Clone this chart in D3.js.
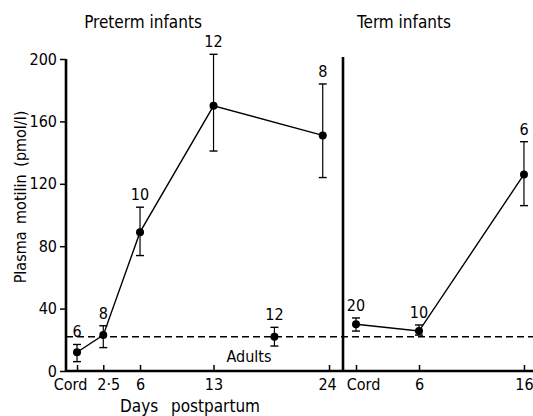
<!DOCTYPE html>
<html>
<head>
<meta charset="utf-8">
<script src="https://cdn.jsdelivr.net/npm/d3@7"></script>
<style>
  body { margin: 0; background: #fff; }
  text { font-family: "DejaVu Sans Condensed", "DejaVu Sans", sans-serif; font-stretch: condensed; fill: #000; }
</style>
</head>
<body>
<div class="chart"></div>
<script>
// Data
var pretermDays = [0, 2.5, 6, 13, 23.4];
var pretermMean = [12, 23, 89, 170, 151];
var pretermLow = [6, 15, 74, 141, 124];
var pretermHigh = [17, 29, 105, 203, 184];
var pretermN = [6, 8, 10, 12, 8];

var adultDay = [18.8];
var adultMean = [22];
var adultLow = [16];
var adultHigh = [28];
var adultN = [12];
var adultLevel = 22;

var termDays = [0, 6, 16];
var termMean = [30, 25.6, 126];
var termLow = [25.6, 23, 106];
var termHigh = [34, 29.5, 147];
var termN = [20, 10, 6];

var pretermTicks = [0, 2.5, 6, 13, 24];
var pretermTickLabels = ["Cord", "2·5", "6", "13", "24"];
var termTicks = [0, 6, 16];
var termTickLabels = ["Cord", "6", "16"];
var yTicks = [0, 40, 80, 120, 160, 200];

var svgWidth = 533;
var svgHeight = 416;

var svg = d3.select(".chart").append("svg")
  .attr("width", svgWidth).attr("height", svgHeight);

// scales
var yScale = d3.scaleLinear().domain([0, 200]).range([371, 59]);
var xPre = d3.scaleLinear().domain([-1.05, 25.33]).range([66, 343]);
var xTerm = d3.scaleLinear().domain([-1.24, 16.86]).range([343, 533]);

function zip(days, mean, low, high, n) {
  return days.map((d, i) => ({ day: d, mean: mean[i], low: low[i], high: high[i], n: n[i] }));
}
var preterm = zip(pretermDays, pretermMean, pretermLow, pretermHigh, pretermN);
var adults = zip(adultDay, adultMean, adultLow, adultHigh, adultN);
var term = zip(termDays, termMean, termLow, termHigh, termN);

// adults dashed line
svg.append("line")
  .attr("x1", 66).attr("x2", svgWidth)
  .attr("y1", yScale(adultLevel)).attr("y2", yScale(adultLevel))
  .attr("stroke", "#000").attr("stroke-width", 1.6)
  .attr("stroke-dasharray", "7,4");

svg.append("text").attr("x", 249).attr("y", 362)
  .attr("text-anchor", "middle").attr("font-size", 16).text("Adults");

// axes
var leftAxis = d3.axisLeft(yScale).tickValues(yTicks).tickSize(6).tickPadding(3);
var yAxisG = svg.append("g").attr("transform", "translate(66,0)").call(leftAxis);

var preAxis = d3.axisBottom(xPre).tickValues(pretermTicks)
  .tickFormat((d, i) => pretermTickLabels[i]).tickSize(-6).tickPadding(8);
var preG = svg.append("g").attr("transform", "translate(0,371)").call(preAxis);

var termAxis = d3.axisBottom(xTerm).tickValues(termTicks)
  .tickFormat((d, i) => termTickLabels[i]).tickSize(-6).tickPadding(8);
var termG = svg.append("g").attr("transform", "translate(0,371)").call(termAxis);

[yAxisG, preG, termG].forEach(function(g) {
  g.select(".domain").attr("stroke-width", 2.6);
  g.selectAll(".tick line").attr("stroke-width", 1.5);
  g.selectAll(".tick text").attr("font-size", 16)
    .style("font-family", "DejaVu Sans Condensed, DejaVu Sans, sans-serif");
});
yAxisG.select(".domain").attr("d", "M0," + yScale(200) + "V" + yScale(0));
preG.select(".domain").attr("d", "M66,0H343");
termG.select(".domain").attr("d", "M343,0H" + svgWidth);

// nudge crowded tick labels apart, as in the original
preG.selectAll(".tick text").attr("dx", (d, i) => [-7, 5, 0, 0, -2][i]);
termG.selectAll(".tick text").attr("dx", (d, i) => [7, 0, 0][i]);

// divider between panels
svg.append("line")
  .attr("x1", 343).attr("x2", 343).attr("y1", 57).attr("y2", 372)
  .attr("stroke", "#000").attr("stroke-width", 2.6);

// series drawing
function drawSeries(data, xs, connect) {
  var g = svg.append("g");
  if (connect) {
    g.append("path").datum(data)
      .attr("fill", "none").attr("stroke", "#000").attr("stroke-width", 1.4)
      .attr("d", d3.line().x(d => xs(d.day)).y(d => yScale(d.mean)));
  }
  var pts = g.selectAll("g.pt").data(data).enter().append("g").attr("class", "pt");
  pts.append("line")
    .attr("x1", d => xs(d.day)).attr("x2", d => xs(d.day))
    .attr("y1", d => yScale(d.low)).attr("y2", d => yScale(d.high))
    .attr("stroke", "#000").attr("stroke-width", 1.2);
  ["low", "high"].forEach(function(k) {
    pts.append("line")
      .attr("x1", d => xs(d.day) - 4).attr("x2", d => xs(d.day) + 4)
      .attr("y1", d => yScale(d[k])).attr("y2", d => yScale(d[k]))
      .attr("stroke", "#000").attr("stroke-width", 1.4);
  });
  pts.append("circle")
    .attr("cx", d => xs(d.day)).attr("cy", d => yScale(d.mean))
    .attr("r", 4).attr("fill", "#000");
  pts.append("text")
    .attr("x", d => xs(d.day)).attr("y", d => yScale(d.high) - 7)
    .attr("text-anchor", "middle").attr("font-size", 16)
    .text(d => d.n);
}
drawSeries(preterm, xPre, true);
drawSeries(adults, xPre, false);
drawSeries(term, xTerm, true);

// titles and axis labels
svg.append("text").attr("x", 143).attr("y", 28)
  .attr("text-anchor", "middle").attr("font-size", 17).text("Preterm infants");
svg.append("text").attr("x", 404).attr("y", 28)
  .attr("text-anchor", "middle").attr("font-size", 17).text("Term infants");
svg.append("text").attr("x", 190).attr("y", 412)
  .attr("text-anchor", "middle").attr("font-size", 17)
  .attr("word-spacing", 8).text("Days postpartum");
svg.append("text")
  .attr("transform", "translate(26,197) rotate(-90)")
  .attr("text-anchor", "middle").attr("font-size", 16)
  .attr("word-spacing", 3).text("Plasma motilin (pmol/l)");
</script>
</body>
</html>
